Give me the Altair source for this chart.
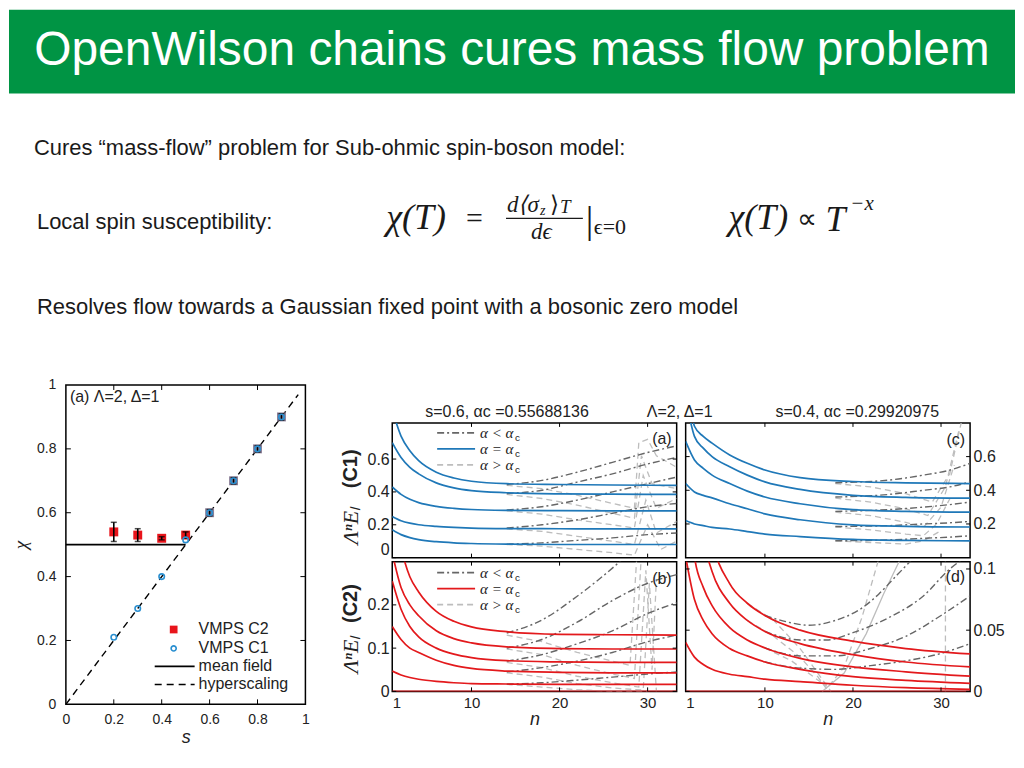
import altair as alt
import pandas as pd

# ------------------------------------------------------------------ texts
TITLE = "OpenWilson chains cures mass flow problem"
LINE1 = "Cures \u201cmass-flow\u201d problem for Sub-ohmic spin-boson model:"
LINE2 = "Local spin susceptibility:"
LINE3 = "Resolves flow towards a Gaussian fixed point with a bosonic zero model"
TITLE_A = "s=0.6, \u03b1c =0.55688136"
TITLE_C = "s=0.4, \u03b1c =0.29920975"
TITLE_MID = "\u039b=2, \u0394=1"

# ------------------------------------------- left figure: exponent x vs s
S_VALS = [0.2, 0.3, 0.4, 0.5, 0.6, 0.7, 0.8, 0.9]
X_C2 = [0.54, 0.53, 0.52, 0.53, 0.60, 0.70, 0.80, 0.90]
X_C2_LO = [0.51, 0.51, 0.515, 0.52, 0.59, 0.69, 0.79, 0.89]
X_C2_HI = [0.57, 0.55, 0.525, 0.54, 0.61, 0.71, 0.81, 0.91]
X_C1 = [0.21, 0.30, 0.40, 0.515, 0.60, 0.70, 0.80, 0.90]
MF_S = [0.0, 0.5]
MF_X = [0.5, 0.5]
HS_S = [0.0, 0.97]
HS_X = [0.0, 0.97]
LEFT_TICKS = [0, 0.2, 0.4, 0.6, 0.8, 1]
LEFT_INNER = [0.2, 0.4, 0.6, 0.8]

# ------------------------------------------- NRG energy flows, four panels
N_FLOW = [1, 2, 3, 4, 6, 8, 10, 14, 20, 26, 33.3]
N_TICKS = [1, 10, 20, 30]

A_FLOW = [
    [0.90, 0.74, 0.65, 0.59, 0.52, 0.485, 0.465, 0.45, 0.445, 0.442, 0.44],
    [0.70, 0.61, 0.55, 0.51, 0.455, 0.425, 0.408, 0.395, 0.388, 0.386, 0.385],
    [0.43, 0.385, 0.355, 0.335, 0.312, 0.30, 0.293, 0.288, 0.286, 0.285, 0.285],
    [0.25, 0.225, 0.21, 0.20, 0.19, 0.184, 0.18, 0.177, 0.176, 0.175, 0.175],
    [0.17, 0.14, 0.122, 0.11, 0.097, 0.09, 0.086, 0.082, 0.08, 0.08, 0.08]]
A_DD_N = [14, 18, 22, 26, 30, 33.3]
A_DD = [
    [0.445, 0.47, 0.52, 0.58, 0.64, 0.68],
    [0.39, 0.41, 0.46, 0.51, 0.57, 0.61],
    [0.29, 0.31, 0.35, 0.40, 0.45, 0.49],
    [0.18, 0.20, 0.23, 0.27, 0.31, 0.33],
    [0.082, 0.09, 0.105, 0.12, 0.14, 0.15]]
A_LIGHT_N = [
    [14, 18, 22, 26, 28.5, 29.0, 30.0, 31.0, 33.3],
    [14, 18, 22, 26, 28.5, 29.3, 30.5, 33.3],
    [14, 18, 22, 26, 28.5, 29.5, 31.0, 33.3],
    [14, 18, 22, 26, 28.5, 29.8, 31.0, 33.3],
    [14, 18, 22, 26, 28.5, 30.0, 31.5, 33.3]]
A_LIGHT = [
    [0.44, 0.42, 0.38, 0.33, 0.30, 0.70, 0.72, 0.62, 0.55],
    [0.385, 0.36, 0.32, 0.27, 0.24, 0.62, 0.45, 0.42],
    [0.285, 0.265, 0.23, 0.20, 0.18, 0.50, 0.30, 0.36],
    [0.175, 0.16, 0.13, 0.10, 0.08, 0.35, 0.15, 0.22],
    [0.08, 0.07, 0.05, 0.03, 0.015, 0.20, 0.05, 0.10]]

B_FLOW = [
    [0.42, 0.33, 0.265, 0.23, 0.185, 0.162, 0.149, 0.138, 0.132, 0.131, 0.13],
    [0.32, 0.24, 0.20, 0.175, 0.14, 0.122, 0.112, 0.103, 0.099, 0.098, 0.098],
    [0.255, 0.19, 0.15, 0.126, 0.10, 0.086, 0.078, 0.071, 0.068, 0.067, 0.067],
    [0.15, 0.12, 0.10, 0.09, 0.072, 0.06, 0.053, 0.047, 0.044, 0.043, 0.043],
    [0.047, 0.038, 0.032, 0.028, 0.023, 0.02, 0.018, 0.017, 0.016, 0.016, 0.016],
    [0.0, 0.0, 0.0, 0.0, 0.0, 0.0, 0.0, 0.0, 0.0, 0.0, 0.0]]
B_DD_N = [14, 18, 22, 26, 30, 33.3]
B_DD = [
    [0.135, 0.165, 0.22, 0.285, 0.36, 0.42],
    [0.10, 0.12, 0.16, 0.21, 0.25, 0.27],
    [0.07, 0.085, 0.11, 0.14, 0.18, 0.205],
    [0.045, 0.055, 0.07, 0.09, 0.115, 0.13],
    [0.017, 0.02, 0.026, 0.033, 0.04, 0.045]]
B_LIGHT_N = [
    [14, 18, 22, 26, 28.0, 28.8],
    [14, 18, 22, 26, 28.5, 29.3],
    [14, 18, 22, 26, 29.0, 29.8, 30.5, 31.0],
    [14, 18, 22, 26, 29.5, 30.2, 31.0],
    [14, 18, 22, 26, 30.0]]
B_LIGHT = [
    [0.13, 0.115, 0.09, 0.07, 0.06, 0.32],
    [0.098, 0.085, 0.06, 0.04, 0.03, 0.32],
    [0.067, 0.055, 0.035, 0.02, 0.01, 0.28, 0.05, 0.26],
    [0.043, 0.033, 0.018, 0.008, 0.003, 0.25, 0.0],
    [0.016, 0.01, 0.004, 0.0, 0.0]]

C_FLOW = [
    [1.20, 0.78, 0.72, 0.68, 0.61, 0.56, 0.52, 0.475, 0.452, 0.444, 0.44],
    [0.95, 0.72, 0.65, 0.60, 0.54, 0.49, 0.45, 0.405, 0.37, 0.358, 0.353],
    [0.69, 0.58, 0.53, 0.49, 0.44, 0.395, 0.36, 0.32, 0.285, 0.275, 0.27],
    [0.44, 0.39, 0.37, 0.355, 0.32, 0.29, 0.26, 0.225, 0.195, 0.186, 0.182],
    [0.22, 0.20, 0.19, 0.18, 0.17, 0.155, 0.14, 0.125, 0.108, 0.102, 0.10]]
C_DD_N = [18, 24, 28, 31, 33.3]
C_DD = [
    [0.445, 0.46, 0.49, 0.52, 0.56],
    [0.36, 0.375, 0.40, 0.42, 0.45],
    [0.275, 0.285, 0.30, 0.315, 0.33],
    [0.185, 0.19, 0.20, 0.207, 0.215],
    [0.10, 0.105, 0.115, 0.122, 0.13]]
C_LIGHT_N = [
    [18, 22, 26, 29, 31, 32.5],
    [18, 22, 26, 28.5, 30.5, 32.0],
    [18, 22, 26, 28, 30, 31.5],
    [18, 22, 26, 28, 29.5, 31],
    [18, 22, 26, 28, 30]]
C_LIGHT = [
    [0.44, 0.42, 0.38, 0.33, 0.50, 0.85],
    [0.353, 0.33, 0.29, 0.25, 0.42, 0.75],
    [0.27, 0.25, 0.21, 0.18, 0.30, 0.55],
    [0.182, 0.165, 0.14, 0.13, 0.20, 0.35],
    [0.10, 0.09, 0.08, 0.10, 0.16]]

D_FLOW = [
    [0.40, 0.25, 0.17, 0.125, 0.088, 0.072, 0.062, 0.05, 0.041, 0.035, 0.0306],
    [0.30, 0.18, 0.125, 0.098, 0.072, 0.058, 0.049, 0.039, 0.03, 0.024, 0.02],
    [0.20, 0.11, 0.085, 0.07, 0.052, 0.042, 0.0355, 0.027, 0.02, 0.016, 0.0124],
    [0.11, 0.075, 0.058, 0.047, 0.035, 0.029, 0.024, 0.018, 0.012, 0.009, 0.0066],
    [0.04, 0.028, 0.022, 0.018, 0.014, 0.012, 0.01, 0.008, 0.005, 0.003, 0.0017],
    [0.0, 0.0, 0.0, 0.0, 0.0, 0.0, 0.0, 0.0, 0.0, 0.0, 0.0]]
D_DD_N = [
    [10, 13, 15, 18, 21, 23, 25, 27],
    [10, 14, 17, 20, 24, 28, 31, 33.3],
    [10, 14, 18, 22, 26, 30, 33.3],
    [10, 14, 18, 22, 26, 30, 33.3]]
D_DD = [
    [0.062, 0.056, 0.054, 0.058, 0.068, 0.08, 0.095, 0.11],
    [0.049, 0.042, 0.042, 0.048, 0.06, 0.078, 0.1, 0.112],
    [0.0355, 0.029, 0.029, 0.035, 0.045, 0.062, 0.078],
    [0.024, 0.019, 0.018, 0.021, 0.025, 0.031, 0.039]]
D_LIGHT_N = [
    [8, 11, 14, 16, 17.5],
    [8, 11, 14, 16, 17, 19, 21, 23],
    [10, 13, 15.5, 17],
    [30.5, 30.5]]
D_LIGHT = [
    [0.072, 0.058, 0.035, 0.015, 0.0],
    [0.058, 0.045, 0.028, 0.012, 0.002, 0.02, 0.06, 0.11],
    [0.0355, 0.025, 0.012, 0.004],
    [0.0, 0.11]]
D_LIGHT_SOLID_N = [[16.5, 19, 21.5, 23.5, 25.5]]
D_LIGHT_SOLID = [[0.0, 0.015, 0.047, 0.08, 0.11]]

# ------------------------------------------------------------------ style
SANS = "Liberation Sans"
SERIF = "Liberation Serif"
GREEN = "#009444"
BLUE = "#1f78b8"
RED = "#e3191c"
DARK = "#666666"
LIGHT = "#bdbdbd"
INK = "#1a1a1a"
DASHDOT = [7, 3, 2, 3]
DASHED = [6, 4]

ONE = pd.DataFrame({"a": [0]})


def txt(text, x, y, size=16, align="left", baseline="middle", font=SANS,
        style="normal", weight="normal", color=INK, angle=0):
    return alt.Chart(ONE).mark_text(
        text=text, fontSize=size, align=align, baseline=baseline, font=font,
        fontStyle=style, fontWeight=weight, color=color, angle=angle
    ).encode(x=alt.value(x), y=alt.value(y))


def hrule(x1, x2, y, color, dash=None, width=1.6):
    kw = {} if dash is None else {"strokeDash": dash}
    return alt.Chart(ONE).mark_rule(color=color, strokeWidth=width, **kw).encode(
        x=alt.value(x1), x2=alt.value(x2), y=alt.value(y))


def long_df(n_lists, v_lists):
    rows = []
    for c, (ns, vs) in enumerate(zip(n_lists, v_lists)):
        for k, (n, v) in enumerate(zip(ns, vs)):
            rows.append({"n": n, "v": v, "curve": c, "idx": k})
    return pd.DataFrame(rows)


# ------------------------------------------------------------ top section
# the top view's origin is aligned with the left plot's origin (page x = 65)
X0 = 57               # left overhang of the banner (page x 8)
OX, OY = 65, 8        # page position of the top view's origin
TOP_W, TOP_H = 1016 - OX, 367


def tp(x, y, *a, **k):
    return txt(a[0], x - OX, y - OY, *a[1:], **k)


top = alt.layer(
    alt.Chart(ONE).mark_rect(color=GREEN).encode(
        x=alt.value(-X0), x2=alt.value(TOP_W), y=alt.value(0), y2=alt.value(84)),
    tp(512, 63, TITLE, size=48, align="center", baseline="alphabetic", color="white"),
    tp(33, 147, LINE1, size=22),
    tp(36, 221, LINE2, size=22),
    tp(36, 306, LINE3, size=22),
    # chi(T) = d<sigma_z>_T / d eps |_(eps=0)
    tp(386, 217, "\u03c7(T)", size=36, font=SERIF, style="italic"),
    tp(466, 218, "=", size=30, font=SERIF),
    tp(507, 204, "d\u27e8\u03c3", size=23, font=SERIF, style="italic"),
    tp(540, 210, "z", size=14, font=SERIF, style="italic"),
    tp(550, 204, "\u27e9", size=23, font=SERIF),
    tp(560, 206, "T", size=19, font=SERIF, style="italic"),
    hrule(506 - OX, 583 - OX, 217 - OY, INK, width=1.2),
    tp(531, 231, "d\u03f5", size=23, font=SERIF, style="italic"),
    tp(586, 221, "|", size=38, font=SERIF),
    tp(594, 226, "\u03f5=0", size=22, font=SERIF),
    # chi(T) ~ T^-x
    tp(729, 217, "\u03c7(T)", size=36, font=SERIF, style="italic"),
    tp(798, 219, "\u221d", size=28, font=SERIF),
    tp(826, 219, "T", size=36, font=SERIF, style="italic"),
    tp(851, 203, "\u2212x", size=21, font=SERIF, style="italic"),
).properties(width=TOP_W, height=TOP_H)

# ------------------------------------------------------------ left figure
LW, LH = 240, 320
lx = alt.X("s:Q", scale=alt.Scale(domain=[0, 1], nice=False, zero=False),
           axis=alt.Axis(values=LEFT_TICKS, format="~g", title="s", titleFontStyle="italic",
                         titleFontWeight="normal", titleFontSize=18, titleFont=SANS,
                         labelFontSize=14, labelFont=SANS, grid=False, domain=False, ticks=False,
                         labelPadding=8, titlePadding=2, labelFlush=False,
                         labelColor="#222", titleColor="#222"))
ly = alt.Y("x:Q", scale=alt.Scale(domain=[0, 1], nice=False, zero=False),
           axis=alt.Axis(values=LEFT_TICKS, format="~g", title="\u03c7", titleFontStyle="italic",
                         titleFontWeight="normal", titleFontSize=19, titleFont=SERIF,
                         labelFontSize=14, labelFont=SANS, grid=False, domain=False, ticks=False,
                         labelPadding=10, titlePadding=6, labelFlush=False,
                         labelColor="#222", titleColor="#222"))

df_c2 = pd.DataFrame({"s": S_VALS, "x": X_C2})
df_err = pd.DataFrame({"s": S_VALS, "x": X_C2_LO, "xhi": X_C2_HI})
df_caps = pd.DataFrame({"s": S_VALS + S_VALS, "x": X_C2_LO + X_C2_HI})
df_c1 = pd.DataFrame({"s": S_VALS, "x": X_C1})
df_mf = pd.DataFrame({"s": MF_S, "x": MF_X})
df_hs = pd.DataFrame({"s": HS_S, "x": HS_X})
df_tx = pd.DataFrame({"s": LEFT_INNER})
df_ty = pd.DataFrame({"x": LEFT_INNER})

left = alt.layer(
    alt.Chart(df_tx).mark_rule(color="black", strokeWidth=1).encode(x=lx, y=alt.value(LH), y2=alt.value(LH - 5)),
    alt.Chart(df_tx).mark_rule(color="black", strokeWidth=1).encode(x=lx, y=alt.value(0), y2=alt.value(5)),
    alt.Chart(df_ty).mark_rule(color="black", strokeWidth=1).encode(y=ly, x=alt.value(0), x2=alt.value(5)),
    alt.Chart(df_ty).mark_rule(color="black", strokeWidth=1).encode(y=ly, x=alt.value(LW), x2=alt.value(LW - 5)),
    alt.Chart(df_hs).mark_line(color="black", strokeWidth=1.4, strokeDash=[7, 5]).encode(x=lx, y=ly),
    alt.Chart(df_mf).mark_line(color="black", strokeWidth=1.8).encode(x=lx, y=ly),
    alt.Chart(df_c2).mark_square(size=80, opacity=1).encode(
        x=lx, y=ly,
        color=alt.condition("datum.s > 0.55", alt.value("#8a7f98"), alt.value("#e8141b"))),
    alt.Chart(df_err).mark_rule(color="black", strokeWidth=1.6).encode(x=lx, y=ly, y2=alt.Y2("xhi:Q")),
    alt.Chart(df_caps).mark_tick(color="black", orient="horizontal", size=6, thickness=1.5).encode(x=lx, y=ly),
    alt.Chart(df_c1).mark_point(shape="circle", filled=False, size=30, strokeWidth=1.6,
                                color="#2a8fd0", opacity=1).encode(x=lx, y=ly),
    txt("(a) \u039b=2, \u0394=1", 4, 12, size=16, color="#222"),
    alt.Chart(ONE).mark_square(size=60, color="#e8141b", opacity=1).encode(x=alt.value(108), y=alt.value(245)),
    alt.Chart(ONE).mark_point(shape="circle", filled=False, size=26, strokeWidth=1.6,
                              color="#2a8fd0", opacity=1).encode(x=alt.value(108), y=alt.value(264)),
    hrule(89, 129, 282, "black", width=1.8),
    hrule(89, 129, 300, "black", dash=[7, 5], width=1.5),
    txt("VMPS C2", 133, 245, size=16, color="#222"),
    txt("VMPS C1", 133, 264, size=16, color="#222"),
    txt("mean field", 133, 282, size=16, color="#222"),
    txt("hyperscaling", 133, 300, size=16, color="#222"),
).properties(width=LW, height=LH, view=alt.ViewBackground(stroke="black", strokeWidth=1.5))

# ------------------------------------------------------------ flow panels
PW = 285


def legend_rows(ys, color, tx):
    out = []
    labels = ["\u03b1 < \u03b1", "\u03b1 = \u03b1", "\u03b1 > \u03b1"]
    styles = [(DARK, DASHDOT), (color, None), (LIGHT, DASHED)]
    for y, lab, (col, dash) in zip(ys, labels, styles):
        out.append(hrule(45, 83, y, col, dash=dash, width=1.8))
        out.append(txt(lab, tx, y, size=15, font=SERIF, style="italic", color="#222"))
        out.append(txt("c", tx + 35, y + 5, size=10, font=SANS, color="#222"))
    return out


def flow_panel(h, ydom, yticks, orient, bottom, flow, color, dd, light, light_solid,
               letter, letter_y, legend_ys, ytitle, yt_pos, flush):
    if bottom:
        xaxis = alt.Axis(values=N_TICKS, title="n", titleFontStyle="italic", titleFontWeight="normal",
                         titleFontSize=18, labelFontSize=15, grid=False, domain=False, ticks=False,
                         labelPadding=4, titlePadding=0, labelColor="#222", titleColor="#222")
    else:
        xaxis = None
    xenc = alt.X("n:Q", scale=alt.Scale(domain=[1, 33.3], nice=False, zero=False), axis=xaxis)
    yenc = alt.Y("v:Q", scale=alt.Scale(domain=ydom, nice=False, zero=False),
                 axis=alt.Axis(values=yticks, orient=orient, title=None, grid=False, domain=False,
                               ticks=False, labelFontSize=16, labelPadding=3, format="~g",
                               labelColor="#222", labelFlush=flush))
    layers = []
    if light_solid is not None:
        layers.append(alt.Chart(long_df(*light_solid)).mark_line(
            color=LIGHT, strokeWidth=1.3, clip=True).encode(
            x=xenc, y=yenc, detail="curve:N", order="idx:Q"))
    layers.append(alt.Chart(long_df(*light)).mark_line(
        color=LIGHT, strokeWidth=1.3, strokeDash=DASHED, clip=True).encode(
        x=xenc, y=yenc, detail="curve:N", order="idx:Q"))
    layers.append(alt.Chart(long_df(*dd)).mark_line(
        color=DARK, strokeWidth=1.4, strokeDash=DASHDOT, clip=True, interpolate="monotone").encode(
        x=xenc, y=yenc, detail="curve:N", order="idx:Q"))
    layers.append(alt.Chart(long_df([N_FLOW] * len(flow), flow)).mark_line(
        color=color, strokeWidth=1.7, clip=True, interpolate="monotone").encode(
        x=xenc, y=yenc, detail="curve:N", order="idx:Q"))
    tx = pd.DataFrame({"n": N_TICKS[1:]})
    ty = pd.DataFrame({"v": yticks})
    layers += [
        alt.Chart(tx).mark_rule(color="black").encode(x=xenc, y=alt.value(0), y2=alt.value(4)),
        alt.Chart(tx).mark_rule(color="black").encode(x=xenc, y=alt.value(h), y2=alt.value(h - 4)),
        alt.Chart(ty).mark_rule(color="black").encode(y=yenc, x=alt.value(0), x2=alt.value(4)),
        alt.Chart(ty).mark_rule(color="black").encode(y=yenc, x=alt.value(PW), x2=alt.value(PW - 4)),
        txt(letter, PW - 5, letter_y, size=16, align="right", color="#222"),
    ]
    if legend_ys is not None:
        layers += legend_rows(legend_ys, color, 88)
    if ytitle is not None:
        layers.append(txt("\u039b\u207fE\u2097", -41, yt_pos[0], size=22, align="center",
                          font=SERIF, style="italic", color="#222", angle=270))
        layers.append(txt(ytitle, -41, yt_pos[1], size=20, align="center", weight="bold",
                          color="#222", angle=270))
    return alt.layer(*layers).properties(
        width=PW, height=h, view=alt.ViewBackground(stroke="black", strokeWidth=1.5))


pa = flow_panel(135, [0, 0.82], [0, 0.2, 0.4, 0.6], "left", False, A_FLOW, BLUE,
                ([A_DD_N] * len(A_DD), A_DD), (A_LIGHT_N, A_LIGHT), None,
                "(a)", 16, [10, 26, 42], "(C1)", (103, 46), True)
pc = flow_panel(135, [0, 0.8], [0.2, 0.4, 0.6], "right", False, C_FLOW, BLUE,
                ([C_DD_N] * len(C_DD), C_DD), (C_LIGHT_N, C_LIGHT), None,
                "(c)", 17, None, None, None, True)
pb = flow_panel(130, [0, 0.3], [0, 0.1, 0.2], "left", True, B_FLOW, RED,
                ([B_DD_N] * len(B_DD), B_DD), (B_LIGHT_N, B_LIGHT), None,
                "(b)", 17, [11, 27, 43], "(C2)", (93, 42), False)
pd_ = flow_panel(130, [0, 0.106], [0, 0.05, 0.1], "right", True, D_FLOW, RED,
                 (D_DD_N, D_DD), (D_LIGHT_N, D_LIGHT), (D_LIGHT_SOLID_N, D_LIGHT_SOLID),
                 "(d)", 15, None, None, None, False)

# spacer above the panels: its origin coincides with panel (a)'s left edge
AX, AY = 395, 383
spacer = alt.layer(
    txt(TITLE_A, 510 - AX, 410 - AY, size=16, align="center", color="#222"),
    txt(TITLE_MID, 683 - AX, 410 - AY, size=16, align="center", color="#222"),
    txt(TITLE_C, 861 - AX, 410 - AY, size=16, align="center", color="#222"),
).properties(width=575, height=34)

grid = alt.vconcat(alt.hconcat(pa, pc, spacing=5), alt.hconcat(pb, pd_, spacing=5), spacing=0)
right = alt.vconcat(spacer, grid, spacing=0)
bottom = alt.hconcat(left, right, spacing=29)

chart = (alt.vconcat(top, bottom, spacing=0)
         .properties(padding=0)
         .configure(font=SANS)
         .configure_view(stroke="transparent"))

chart.save("out.html", embed_options={"renderer": "svg", "actions": False})
